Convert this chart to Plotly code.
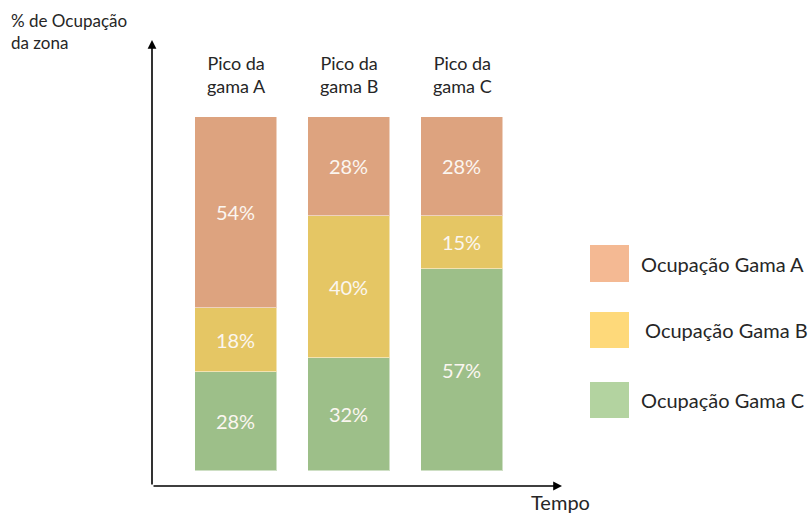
import plotly.graph_objects as go

# ---- data ----
categories = ["Pico da<br>gama A", "Pico da<br>gama B", "Pico da<br>gama C"]
series_names = ["Ocupação Gama C", "Ocupação Gama B", "Ocupação Gama A"]  # bottom -> top
gama_c = [28, 32, 57]
gama_b = [18, 40, 15]
gama_a = [54, 28, 28]
bar_colors = {"Ocupação Gama A": "#DDA37F", "Ocupação Gama B": "#E5C664", "Ocupação Gama C": "#9DBF89"}
legend_colors = {"Ocupação Gama A": "#F4B993", "Ocupação Gama B": "#FED97A", "Ocupação Gama C": "#B3D3A0"}
y_title = "% de Ocupação<br>da zona"
x_title = "Tempo"

W, H = 810, 515
L, R, T, B = 152, 562, 40, 486  # plot area in pixels
FONT = "Lato, 'Open Sans', sans-serif"


def px(x):
    return (x - L) / (R - L)


def py(y):
    return (B - y) / (B - T)


fig = go.Figure()
values = {"Ocupação Gama C": gama_c, "Ocupação Gama B": gama_b, "Ocupação Gama A": gama_a}
xs = list(range(len(categories)))
for name in series_names:
    fig.add_trace(go.Bar(
        x=xs, y=values[name], name=name,
        marker=dict(color=bar_colors[name], line=dict(color="rgba(255,255,255,0.5)", width=1)),
        width=0.726,
        text=[f"{v}%" for v in values[name]],
        textposition="inside", insidetextanchor="middle", textangle=0,
        constraintext="none",
        textfont=dict(color="#FBF6F0", size=20, family=FONT),
        showlegend=False, hoverinfo="skip",
    ))

# y range: 0 at pixel 471, 100 at pixel 117
ppu = (471 - 117) / 100.0
y0 = -(B - 471) / ppu
y1 = (471 - T) / ppu
# x range: category 0 centered at pixel 236, spacing 113 px
x0 = -(236 - L) / 113.0
x1 = x0 + (R - L) / 113.0

fig.update_layout(
    width=W, height=H,
    margin=dict(l=L, r=W - R, t=T, b=H - B, pad=0),
    barmode="stack", bargap=0,
    plot_bgcolor="white", paper_bgcolor="white",
    xaxis=dict(range=[x0, x1], visible=False, fixedrange=True),
    yaxis=dict(range=[y0, y1], visible=False, fixedrange=True),
    showlegend=False,
    font=dict(family=FONT),
)

TXT = "#262626"
annotations = []
# axes arrows (offsets in pixels)
annotations.append(dict(x=0, y=1, xref="paper", yref="paper", ax=0, ay=B - T,
                        showarrow=True, arrowhead=2, arrowsize=1.1, arrowwidth=1.6, arrowcolor="black", text=""))
annotations.append(dict(x=1, y=0, xref="paper", yref="paper", ax=-(R - L), ay=0,
                        showarrow=True, arrowhead=2, arrowsize=1.1, arrowwidth=1.6, arrowcolor="black", text=""))
# category labels above bars
for i, c in enumerate(categories):
    annotations.append(dict(x=xs[i], y=py(74), xref="x", yref="paper", text=c, showarrow=False,
                            font=dict(size=18, color=TXT, family=FONT), align="center",
                            xanchor="center", yanchor="middle"))
# axis titles
annotations.append(dict(x=px(9), y=py(32), xref="paper", yref="paper", text=y_title, showarrow=False,
                        xanchor="left", yanchor="middle", align="left",
                        font=dict(size=17, color=TXT, family=FONT)))
annotations.append(dict(x=px(560), y=py(502), xref="paper", yref="paper", text=x_title, showarrow=False,
                        xanchor="center", yanchor="middle",
                        font=dict(size=20, color=TXT, family=FONT)))

# custom legend
shapes = []
legend_rows = [("Ocupação Gama A", 245, 282, 639), ("Ocupação Gama B", 312, 348, 643), ("Ocupação Gama C", 382, 418, 639)]
for name, top, bot, tx in legend_rows:
    shapes.append(dict(type="rect", xref="paper", yref="paper", x0=px(590), x1=px(629), y0=py(bot), y1=py(top),
                       fillcolor=legend_colors[name], line=dict(width=0)))
    annotations.append(dict(x=px(tx), y=py((top + bot) / 2), xref="paper", yref="paper", text=name,
                            showarrow=False, xanchor="left", yanchor="middle",
                            font=dict(size=20, color=TXT, family=FONT)))

fig.update_layout(annotations=annotations, shapes=shapes)
fig.write_html("out.html")
